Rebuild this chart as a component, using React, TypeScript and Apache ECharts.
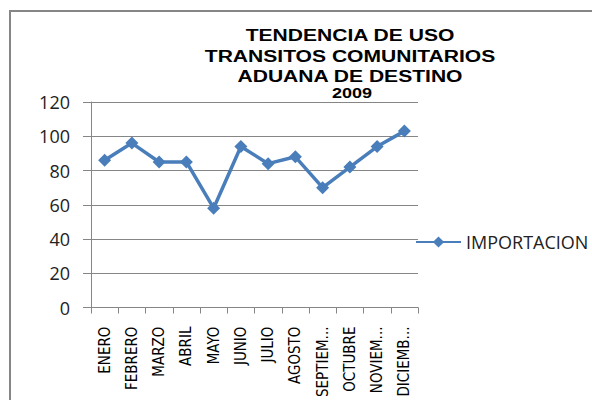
import React, { useEffect, useRef } from "react";
import * as echarts from "echarts";

const titleLines = ["TENDENCIA DE USO", "TRANSITOS COMUNITARIOS", "ADUANA DE DESTINO"];
const titleYear = "2009";
const categories = [
  "ENERO", "FEBRERO", "MARZO", "ABRIL", "MAYO", "JUNIO",
  "JULIO", "AGOSTO", "SEPTIEM...", "OCTUBRE", "NOVIEM...", "DICIEMB...",
];
const seriesName = "IMPORTACION";
const importacion = [86, 96, 85, 85, 58, 94, 84, 88, 70, 82, 94, 103];
const yTicks = { min: 0, max: 120, interval: 20 };

export default function App() {
  const ref = useRef<HTMLDivElement>(null);
  useEffect(() => {
    if (!ref.current) return;
    const chart = echarts.init(ref.current, undefined, { renderer: "svg" });
    const gray = "#868686";
    const titleFont = "'Liberation Sans', Arial, sans-serif";
    const titleY = [35, 56, 76];
    chart.setOption({
      animation: false,
      backgroundColor: "#ffffff",
      graphic: [
        {
          type: "rect",
          shape: { x: 10, y: 11, width: 800, height: 600 },
          style: { fill: "none", stroke: gray, lineWidth: 2 },
          silent: true,
        },
        ...titleLines.map((t, i) => ({
          type: "text",
          x: 350,
          y: titleY[i],
          scaleX: 1.24,
          style: {
            text: t,
            fontFamily: titleFont,
            fontWeight: "bold",
            fontSize: 17,
            fill: "#000",
            textAlign: "center",
            textVerticalAlign: "middle",
          },
        })),
        {
          type: "text",
          x: 352,
          y: 93,
          scaleX: 1.2,
          style: {
            text: titleYear,
            fontFamily: titleFont,
            fontWeight: "bold",
            fontSize: 15,
            fill: "#000",
            textAlign: "center",
            textVerticalAlign: "middle",
          },
        },
      ],
      legend: {
        left: 410,
        top: 228,
        itemWidth: 45,
        itemHeight: 14,
        itemGap: 4,
        textStyle: {
          fontFamily: "'Open Sans', 'Noto Sans', sans-serif",
          fontSize: 18,
          color: "#222",
          padding: [0, 0, 0, 0],
        },
        data: [seriesName],
      },
      grid: { left: 91, right: 174, top: 102, bottom: 92, containLabel: false },
      xAxis: {
        type: "category",
        data: categories,
        boundaryGap: true,
        axisLine: { lineStyle: { color: gray, width: 1 } },
        axisTick: { show: true, length: 6, alignWithLabel: false, lineStyle: { color: gray } },
        axisLabel: {
          interval: 0,
          rotate: 90,
          margin: 19,
          fontFamily: "'DejaVu Sans Condensed', 'Liberation Sans Narrow', 'Liberation Sans', sans-serif",
          fontSize: 15,
          color: "#000",
        },
      },
      yAxis: {
        type: "value",
        min: yTicks.min,
        max: yTicks.max,
        interval: yTicks.interval,
        axisLine: { show: true, lineStyle: { color: gray, width: 1 } },
        axisTick: { show: true, length: 8, lineStyle: { color: gray } },
        splitLine: { show: true, lineStyle: { color: gray, width: 1 } },
        axisLabel: {
          margin: 21,
          fontFamily: "'Open Sans', 'Noto Sans', sans-serif",
          fontSize: 18,
          color: "#222",
        },
      },
      series: [
        {
          name: seriesName,
          type: "line",
          data: importacion,
          symbol: "diamond",
          symbolSize: 13,
          lineStyle: { color: "#4A7EBB", width: 3.5 },
          itemStyle: { color: "#4A7EBB" },
        },
      ],
    });
    return () => chart.dispose();
  }, []);
  return (
    <div
      ref={ref}
      style={{ position: "absolute", left: 0, top: 0, width: 592, height: 400 }}
    />
  );
}
